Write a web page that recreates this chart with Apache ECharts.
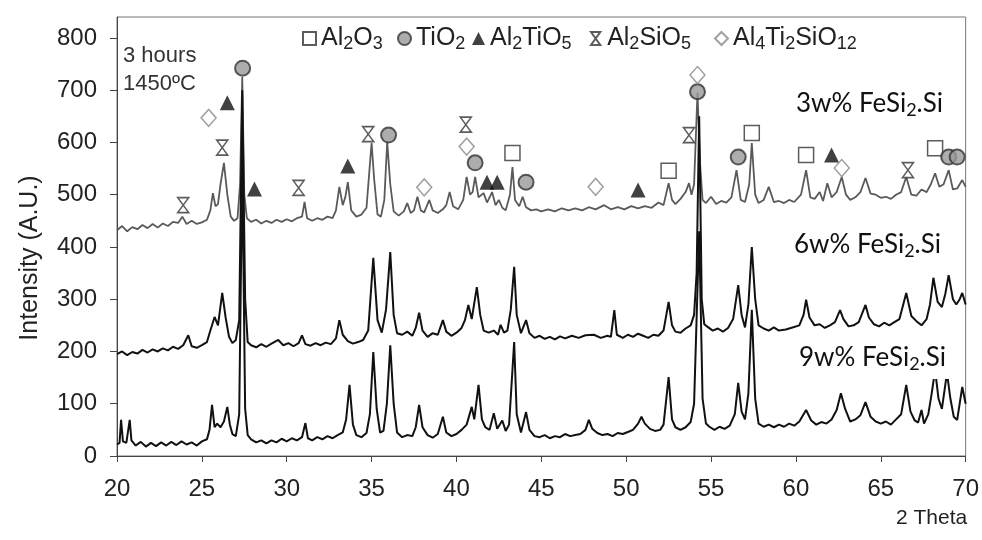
<!DOCTYPE html>
<html><head><meta charset="utf-8">
<script src="https://cdn.jsdelivr.net/npm/echarts@6/dist/echarts.min.js"></script>
<style>html,body{margin:0;padding:0;background:#fff}#c{width:982px;height:540px}</style>
</head><body><div id="c"></div>
<script>
// ---- data ----
const xTicks = [20,25,30,35,40,45,50,55,60,65,70];
const yTicks = [0,100,200,300,400,500,600,700,800];
const seriesNames = ['3w% FeSi2.Si','6w% FeSi2.Si','9w% FeSi2.Si'];
const t3w = [[20.0,432],[20.3,440],[20.6,430],[20.9,438],[21.2,434],[21.5,442],[21.8,436],[22.1,444],[22.4,437],[22.7,445],[23.0,440],[23.3,448],[23.6,446],[23.85,458],[24.1,444],[24.4,450],[24.7,444],[25.0,447],[25.3,452],[25.5,470],[25.65,503],[25.8,478],[25.95,482],[26.1,520],[26.3,561],[26.5,500],[26.7,458],[26.9,450],[27.1,455],[27.25,520],[27.38,725],[27.5,500],[27.65,455],[27.9,448],[28.2,452],[28.5,445],[28.8,450],[29.1,446],[29.4,452],[29.7,448],[30.0,453],[30.3,449],[30.6,455],[30.9,458],[31.05,486],[31.2,455],[31.5,450],[31.8,455],[32.1,452],[32.4,458],[32.7,455],[32.9,470],[33.1,515],[33.3,480],[33.45,495],[33.6,524],[33.8,470],[34.1,458],[34.4,462],[34.7,475],[34.88,550],[35.0,599],[35.15,530],[35.35,462],[35.55,458],[35.75,490],[35.92,601],[36.1,520],[36.3,468],[36.6,460],[36.9,468],[37.1,484],[37.3,465],[37.5,470],[37.7,496],[37.9,470],[38.1,466],[38.4,490],[38.6,470],[38.9,465],[39.2,472],[39.4,480],[39.6,505],[39.8,478],[40.1,472],[40.4,490],[40.6,534],[40.8,500],[40.95,505],[41.1,534],[41.3,495],[41.6,503],[41.8,485],[42.1,505],[42.3,480],[42.5,490],[42.7,475],[42.9,470],[43.15,500],[43.3,553],[43.45,490],[43.7,478],[43.9,496],[44.1,476],[44.4,470],[44.7,472],[45.0,468],[45.4,472],[45.8,468],[46.2,474],[46.6,470],[47.0,474],[47.4,470],[47.8,476],[48.2,472],[48.7,480],[49.1,472],[49.5,476],[49.9,472],[50.3,478],[50.7,474],[51.1,478],[51.5,475],[51.9,485],[52.2,480],[52.5,522],[52.7,490],[52.9,482],[53.2,492],[53.5,505],[53.7,522],[53.85,500],[54.0,520],[54.2,695],[54.35,560],[54.5,490],[54.7,484],[55.0,496],[55.3,482],[55.6,488],[55.9,485],[56.2,495],[56.5,547],[56.75,490],[57.0,486],[57.25,520],[57.4,599],[57.6,500],[57.8,484],[58.1,490],[58.4,515],[58.7,486],[59.0,488],[59.3,484],[59.6,490],[59.9,486],[60.3,500],[60.6,547],[60.85,495],[61.1,492],[61.4,505],[61.6,488],[61.85,522],[62.1,495],[62.4,505],[62.7,534],[62.95,500],[63.2,490],[63.5,495],[63.8,505],[64.1,532],[64.4,502],[64.7,500],[65.0,494],[65.3,496],[65.6,492],[65.9,500],[66.2,505],[66.5,534],[66.8,500],[67.1,498],[67.4,510],[67.7,505],[67.95,520],[68.2,541],[68.45,515],[68.7,520],[69.0,547],[69.25,510],[69.5,512],[69.8,528],[70.0,515]];
const t6w = [[20.0,195],[20.3,200],[20.6,193],[20.9,199],[21.2,196],[21.5,203],[21.8,198],[22.1,204],[22.4,200],[22.7,206],[23.0,202],[23.3,209],[23.6,205],[23.9,212],[24.2,231],[24.4,210],[24.7,207],[25.0,212],[25.3,218],[25.5,240],[25.75,266],[25.95,250],[26.2,312],[26.4,265],[26.6,228],[26.8,216],[27.0,222],[27.2,260],[27.38,700],[27.55,300],[27.7,218],[27.9,212],[28.2,208],[28.5,214],[28.8,209],[29.1,215],[29.5,222],[29.8,212],[30.1,216],[30.4,210],[30.7,216],[30.9,231],[31.1,214],[31.4,211],[31.7,216],[32.0,212],[32.3,217],[32.6,214],[32.9,225],[33.1,260],[33.3,232],[33.6,220],[33.9,215],[34.2,218],[34.5,222],[34.8,240],[35.1,379],[35.35,260],[35.6,236],[35.85,280],[36.1,390],[36.3,270],[36.5,235],[36.8,232],[37.1,238],[37.4,230],[37.6,245],[37.8,274],[38.0,240],[38.3,228],[38.6,235],[38.9,232],[39.2,260],[39.4,238],[39.7,230],[40.0,236],[40.3,245],[40.5,260],[40.7,289],[40.9,262],[41.2,323],[41.4,270],[41.6,240],[41.9,236],[42.2,240],[42.45,232],[42.6,251],[42.8,236],[43.0,240],[43.2,280],[43.4,362],[43.55,270],[43.8,235],[44.1,260],[44.3,235],[44.6,226],[44.9,230],[45.2,224],[45.5,228],[45.8,223],[46.1,229],[46.4,225],[46.8,230],[47.2,226],[47.6,231],[48.1,232],[48.5,226],[48.9,230],[49.1,228],[49.3,279],[49.45,232],[49.8,226],[50.1,232],[50.4,228],[50.7,234],[51.0,230],[51.3,226],[51.6,232],[51.9,230],[52.2,240],[52.5,295],[52.7,250],[52.9,238],[53.2,236],[53.5,244],[53.8,250],[54.0,270],[54.15,350],[54.3,650],[54.45,300],[54.6,252],[54.8,247],[55.1,240],[55.4,244],[55.7,238],[56.0,245],[56.3,262],[56.6,327],[56.8,270],[57.0,246],[57.2,290],[57.4,400],[57.6,300],[57.8,250],[58.1,244],[58.4,240],[58.7,246],[59.0,240],[59.4,242],[59.8,246],[60.2,250],[60.45,270],[60.6,299],[60.8,265],[61.1,250],[61.4,252],[61.7,245],[62.0,250],[62.3,256],[62.6,279],[62.8,262],[63.1,248],[63.4,250],[63.7,256],[64.1,289],[64.3,265],[64.6,252],[64.9,248],[65.2,255],[65.5,250],[65.8,256],[66.1,262],[66.5,312],[66.8,268],[67.1,258],[67.4,250],[67.7,262],[67.9,290],[68.1,341],[68.35,295],[68.6,285],[68.8,310],[69.0,346],[69.25,300],[69.45,290],[69.65,300],[69.8,312],[70.0,290]];
const t9w = [[20.0,22],[20.15,25],[20.24,69],[20.35,28],[20.55,25],[20.75,69],[20.85,30],[21.1,20],[21.4,27],[21.7,18],[22.0,25],[22.3,19],[22.6,26],[22.9,20],[23.2,27],[23.5,21],[23.8,28],[24.1,22],[24.4,26],[24.7,20],[25.0,28],[25.3,32],[25.45,50],[25.6,98],[25.75,55],[25.9,62],[26.1,55],[26.3,66],[26.5,94],[26.65,60],[26.8,42],[27.0,38],[27.2,80],[27.38,560],[27.55,90],[27.7,40],[27.9,32],[28.2,26],[28.5,30],[28.8,24],[29.1,30],[29.4,26],[29.7,33],[30.0,28],[30.3,34],[30.6,30],[30.9,36],[31.1,63],[31.25,34],[31.5,30],[31.8,36],[32.1,32],[32.4,38],[32.7,34],[33.0,40],[33.3,45],[33.5,70],[33.7,136],[33.9,60],[34.1,40],[34.4,36],[34.7,44],[34.9,80],[35.1,199],[35.3,90],[35.5,45],[35.7,48],[35.9,100],[36.1,212],[36.3,100],[36.5,45],[36.8,36],[37.1,40],[37.4,38],[37.6,55],[37.8,98],[38.0,55],[38.3,40],[38.6,35],[38.9,42],[39.2,75],[39.4,45],[39.7,38],[40.0,42],[40.3,50],[40.6,60],[40.9,94],[41.05,70],[41.3,136],[41.5,70],[41.7,55],[41.95,50],[42.2,82],[42.4,52],[42.7,68],[42.9,48],[43.1,60],[43.4,218],[43.55,80],[43.8,45],[44.1,84],[44.3,50],[44.6,38],[44.9,36],[45.2,40],[45.5,34],[45.8,38],[46.1,36],[46.4,42],[46.7,38],[47.0,40],[47.3,42],[47.6,50],[47.8,69],[48.0,52],[48.3,44],[48.6,40],[48.9,42],[49.2,38],[49.5,44],[49.8,42],[50.1,46],[50.4,50],[50.7,62],[50.9,75],[51.1,62],[51.4,52],[51.7,48],[52.0,50],[52.2,60],[52.5,151],[52.7,70],[52.9,55],[53.2,50],[53.5,55],[53.8,65],[54.0,100],[54.3,430],[54.5,110],[54.7,62],[54.9,56],[55.2,50],[55.5,56],[55.8,52],[56.1,58],[56.4,80],[56.6,140],[56.8,85],[57.0,70],[57.2,120],[57.4,280],[57.6,110],[57.8,62],[58.1,56],[58.4,60],[58.7,55],[59.0,60],[59.3,56],[59.6,62],[59.9,58],[60.2,66],[60.6,88],[60.9,68],[61.2,60],[61.5,65],[61.8,62],[62.1,70],[62.4,88],[62.65,120],[62.9,90],[63.2,66],[63.5,70],[63.8,78],[64.1,103],[64.4,75],[64.7,66],[65.0,62],[65.3,66],[65.6,60],[65.9,70],[66.2,80],[66.5,136],[66.75,85],[67.0,68],[67.2,64],[67.4,88],[67.55,62],[67.8,80],[68.0,120],[68.2,165],[68.4,110],[68.6,90],[68.9,159],[69.1,110],[69.3,75],[69.5,69],[69.8,132],[70.0,100]];
// phase markers
const phaseNames = ['Al2O3','TiO2','Al2TiO5','Al2SiO5','Al4Ti2SiO12'];
const mAl2O3 = [[43.3,580],[52.5,546],[57.4,618],[60.6,576],[68.2,589]];
const mTiO2 = [[27.4,742],[36.0,614],[41.1,561],[44.1,524],[54.2,697],[56.6,572],[69.0,572],[69.5,572]];
const mAl2TiO5 = [[26.5,676],[28.1,511],[33.6,555],[41.8,524],[42.4,524],[50.7,509],[62.1,576]];
const mAl2SiO5 = [[23.9,480],[26.2,590],[30.7,513],[34.8,616],[40.55,634],[53.7,614],[66.6,547]];
const mAl4Ti2SiO12 = [[25.4,647],[38.1,514],[40.6,592],[48.2,515],[54.2,729],[62.7,551]];

const chart = echarts.init(document.getElementById('c'), null, {renderer:'canvas'});
const F = '"Liberation Sans", Arial, sans-serif';
const richSub = {
  n:{fontSize:25, fontFamily:F, color:'#222'},
  s:{fontSize:18, fontFamily:F, color:'#222', padding:[12,0,0,0]}
};
const legendFmt = {
  'Al2O3':'{n|Al}{s|2}{n|O}{s|3}',
  'TiO2':'{n|TiO}{s|2}',
  'Al2TiO5':'{n|Al}{s|2}{n|TiO}{s|5}',
  'Al2SiO5':'{n|Al}{s|2}{n|SiO}{s|5}',
  'Al4Ti2SiO12':'{n|Al}{s|4}{n|Ti}{s|2}{n|SiO}{s|12}'
};
const legendLeft = [302, 397, 472, 590, 714];
const hourglass = 'path://M0 0 L10 0 L0 14 L10 14 Z';
function lineS(name, data, color, w){
  return {name, type:'line', data, showSymbol:false, symbol:'none', sampling:null,
    lineStyle:{color, width:w}, z:2, silent:true};
}
function markS(name, data, symbol, size, itemStyle){
  return {name, type:'scatter', data, symbol, symbolSize:size, itemStyle, z:5, silent:true};
}
const labelBox = (txt, left, top) => ({
  type:'text', left, top, z:50,
  style:{text:txt, rich:{
      a:{fontSize:26, fontFamily:'Lato, "Open Sans", sans-serif', fill:'#111', color:'#111'},
      b:{fontSize:18, fontFamily:'Lato, "Open Sans", sans-serif', fill:'#111', color:'#111', padding:[13,0,0,0]}
    },
    backgroundColor:'#fff', padding:[6,10,6,10]}
});
chart.setOption({
  animation:false,
  backgroundColor:'#fff',
  grid:{left:117, right:16, top:17, bottom:84, show:true, borderColor:'#777', borderWidth:1},
  legend: phaseNames.map((nm,i)=>({
    data:[nm], left:legendLeft[i], top:26, itemWidth:13, itemHeight:13, padding:0,
    formatter:n=>legendFmt[n], textStyle:{rich:richSub, fontSize:25, color:'#222'},
    selectedMode:false
  })),
  xAxis:{type:'value', min:20, max:70, interval:5,
    axisLine:{lineStyle:{color:'#444', width:1}},
    axisTick:{show:true, inside:false, length:6, lineStyle:{color:'#444'}},
    axisLabel:{fontSize:24, fontFamily:F, color:'#222', margin:21},
    splitLine:{show:false}},
  yAxis:{type:'value', min:0, max:840, interval:100,
    axisLine:{show:true, lineStyle:{color:'#444', width:1}},
    axisTick:{show:true, inside:false, length:7, lineStyle:{color:'#444'}, customValues:yTicks},
    axisLabel:{fontSize:24, fontFamily:F, color:'#222', margin:20, customValues:yTicks},
    splitLine:{show:false}},
  series:[
    lineS(seriesNames[0], t3w, '#5a5a5a', 1.8),
    lineS(seriesNames[1], t6w, '#111', 2),
    lineS(seriesNames[2], t9w, '#111', 2),
    markS('Al2O3', mAl2O3, 'rect', 15, {color:'#fff', borderColor:'#333', borderWidth:1.5}),
    markS('TiO2', mTiO2, 'circle', 15, {color:'#999', borderColor:'#333', borderWidth:2}),
    markS('Al2TiO5', mAl2TiO5, 'triangle', 15, {color:'#111', borderColor:'#111', borderWidth:0}),
    markS('Al2SiO5', mAl2SiO5, hourglass, [11,15], {color:'#fff', borderColor:'#333', borderWidth:1.5}),
    markS('Al4Ti2SiO12', mAl4Ti2SiO12, 'diamond', [15,17], {color:'#fff', borderColor:'#888', borderWidth:1.5})
  ],
  graphic:[
    {type:'text', left:123, top:45, z:40, style:{text:'3 hours', font:'22px "Liberation Sans", Arial, sans-serif', fill:'#333'}},
    {type:'text', left:123, top:73, z:40, style:{text:'1450ºC', font:'22px "Liberation Sans", Arial, sans-serif', fill:'#333'}},
    labelBox('{a|3w% FeSi}{b|2}{a|.Si}', 786, 82),
    labelBox('{a|6w% FeSi}{b|2}{a|.Si}', 784, 223),
    labelBox('{a|9w% FeSi}{b|2}{a|.Si}', 789, 336),
    {type:'text', x:30, y:258, rotation:Math.PI/2, z:40, style:{text:'Intensity (A.U.)', font:'25px "Liberation Sans", Arial, sans-serif', fill:'#222', align:'center', verticalAlign:'middle'}},
    {type:'text', left:896, top:508, z:40, style:{text:'2 Theta', font:'21px "Liberation Sans", Arial, sans-serif', fill:'#222'}}
  ]
});
</script></body></html>
